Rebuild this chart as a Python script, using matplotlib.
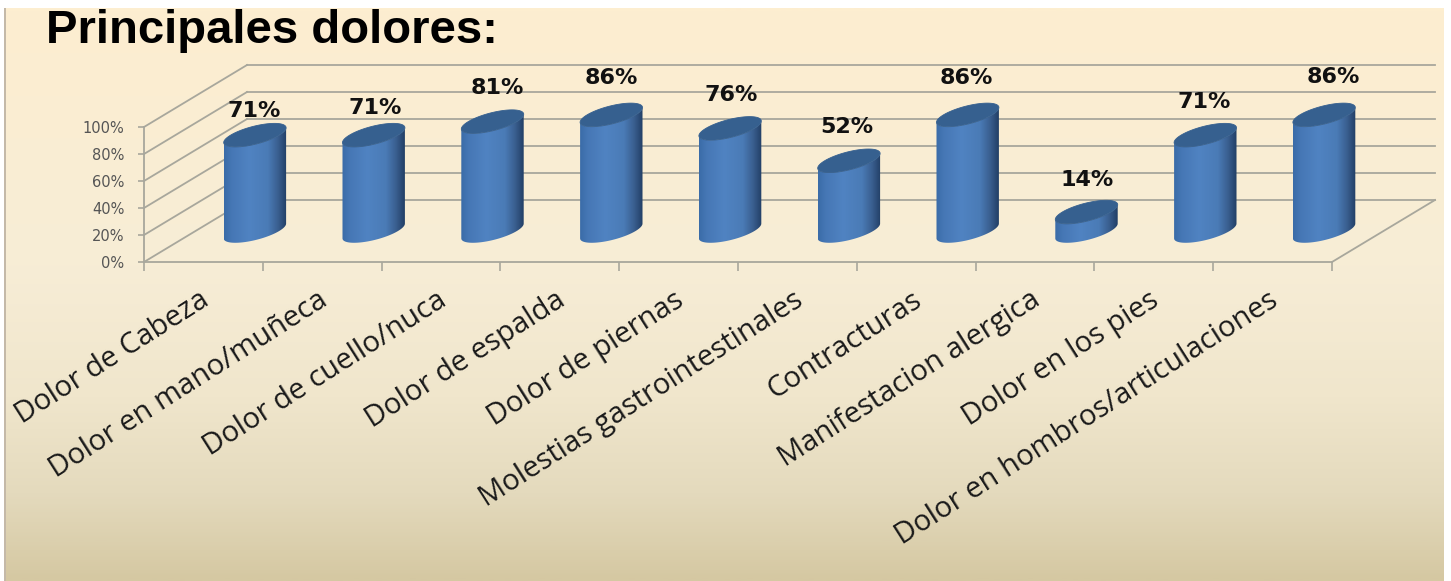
import matplotlib
matplotlib.use("Agg")
import matplotlib.pyplot as plt
import numpy as np
from matplotlib.colors import LinearSegmentedColormap
from matplotlib.patches import Polygon, Rectangle
from matplotlib.transforms import ScaledTranslation

categorias = ["Dolor de Cabeza", "Dolor en mano/muñeca", "Dolor de cuello/nuca",
              "Dolor de espalda", "Dolor de piernas", "Molestias gastrointestinales",
              "Contracturas", "Manifestacion alergica", "Dolor en los pies",
              "Dolor en hombros/articulaciones"]
valores = [71, 71, 81, 86, 76, 52, 86, 14, 71, 86]
ticks_y = [0, 20, 40, 60, 80, 100]
# desplazamiento de cada etiqueta respecto a la tapa del cilindro (px)
etiqueta_dx = [-1, 1, 5, 0, 1, -2, -1, 1, -1, 9]
etiqueta_dy = [24, 27, 34, 37, 33, 34, 37, 32, 33, 38]

W, H = 1451, 581
# profundidad de la pared del fondo, en unidades de datos
PROF_X = 103 / 118.8
PROF_Y = 62 / 135 * 100
RADIO_X = 24.3 / 118.8
RADIO_D = 0.19
GRIS = "#a8a79c"

fondo_cmap = LinearSegmentedColormap.from_list("fondo", [
    (0.0, "#fdeed0"), (0.45, "#f7edd6"), (0.68, "#f0e6cc"),
    (0.85, "#e4dabd"), (1.0, "#d5c8a2")])
barra_cmap = LinearSegmentedColormap.from_list("barra", [
    (0.0, "#3a6ca8"), (0.12, "#4677b5"), (0.4, "#5083c2"), (0.7, "#4a7bb6"),
    (0.86, "#3a5f90"), (1.0, "#223f66")])


def proyectar(x, y, d):
    return x + d * PROF_X, y + d * PROF_Y


fig = plt.figure(figsize=(W / 100, H / 100), dpi=100, facecolor="white")

# fondo degradado
bg = fig.add_axes([6 / W, 0, (1444 - 6) / W, (H - 8) / H], zorder=-1)
bg.imshow(np.linspace(0, 1, 300).reshape(-1, 1), cmap=fondo_cmap, aspect="auto")
bg.axis("off")
fig.add_artist(Rectangle((4 / W, 0), 2 / W, (H - 8) / H, transform=fig.transFigure,
                         color="#c4b9a8", lw=0))

ax = fig.add_axes([144 / W, (H - 262) / H, 1188 / W, 135 / H])
ax.patch.set_alpha(0)

# paredes y suelo
n = len(categorias)
for t in ticks_y:
    xs, ys = proyectar(np.array([0, 0]), np.array([t, t]), np.array([0, 1]))
    ax.plot(xs, ys, color=GRIS, lw=1.3, clip_on=False, zorder=1)
    xs, ys = proyectar(np.array([0, n]), np.array([t, t]), np.array([1, 1]))
    ax.plot(xs, ys, color=GRIS, lw=1.3, clip_on=False, zorder=1)
xs, ys = proyectar(np.array([n, n]), np.array([0, 0]), np.array([0, 1]))
ax.plot(xs, ys, color=GRIS, lw=1.3, clip_on=False, zorder=1)

# cilindros
ang = np.linspace(0, 2 * np.pi, 241)
for i, v in enumerate(valores):
    cx = i + 0.5
    ex = cx + RADIO_X * np.cos(ang)
    ed = 0.5 + RADIO_D * np.sin(ang)
    bx, by = proyectar(ex, 0 * ang, ed)
    tx, ty = proyectar(ex, v + 0 * ang, ed)

    izq, der = np.argmin(bx), np.argmax(bx)
    # arco inferior de la base, de izquierda a derecha
    idx = (izq + np.arange(len(ang))) % len(ang)
    fin = np.where(idx == der)[0][0]
    arco = idx[:fin + 1]
    cuerpo = np.vstack([np.column_stack([bx[arco], by[arco]]),
                        np.column_stack([tx[arco][::-1], ty[arco][::-1]])])
    im = ax.imshow(np.linspace(0, 1, 128).reshape(1, -1), cmap=barra_cmap, aspect="auto",
                   extent=[bx.min(), bx.max(), by.min(), ty.max()], zorder=3)
    # la imagen no debe quedar recortada por la caja de los ejes
    im.set_clip_box(fig.bbox)
    im.set_clip_path(Polygon(cuerpo, transform=ax.transData))
    ax.add_patch(Polygon(np.column_stack([tx, ty]), closed=True, facecolor="#36608f",
                         edgecolor="#36608f", lw=0.6, clip_on=False, zorder=4))

    px, py = proyectar(cx, v, 0.5)
    ax.annotate(f"{v}%", (px, py), xytext=(etiqueta_dx[i] * 0.72, etiqueta_dy[i] * 0.72),
                textcoords="offset points", ha="center", va="center", fontsize=16,
                fontweight="bold", color="#111111", annotation_clip=False, zorder=5)

ax.set_xlim(0, n)
ax.set_ylim(0, 100)
ax.set_yticks(ticks_y)
ax.set_yticklabels([f"{t}%" for t in ticks_y], fontsize=10.5, color="#555555")
ax.set_xticks(range(n + 1))
ax.set_xticklabels([])
ax.set_xticks(np.arange(n) + 0.5, minor=True)
ax.set_xticklabels(categorias, minor=True, rotation=32.5, ha="right",
                   rotation_mode="anchor", fontsize=21, family="Open Sans", color="#1a1a1a")
ax.tick_params(axis="x", which="major", length=6.5, width=1.2, color=GRIS)
ax.tick_params(axis="x", which="minor", length=0, pad=17)
ax.tick_params(axis="y", length=4, width=1.2, color=GRIS, pad=10)
desplaza = ScaledTranslation(-5 / 100, 0, fig.dpi_scale_trans)
for etq in ax.get_xticklabels(minor=True):
    etq.set_transform(etq.get_transform() + desplaza)
for lado in ["top", "right"]:
    ax.spines[lado].set_visible(False)
for lado in ["left", "bottom"]:
    ax.spines[lado].set_color(GRIS)
    ax.spines[lado].set_linewidth(1.3)

fig.text(46 / W, (H - 43) / H, "Principales dolores:", fontsize=34, fontweight="bold",
         family="Liberation Sans", color="black", ha="left", va="baseline")

fig.savefig("out.png", dpi=100)
